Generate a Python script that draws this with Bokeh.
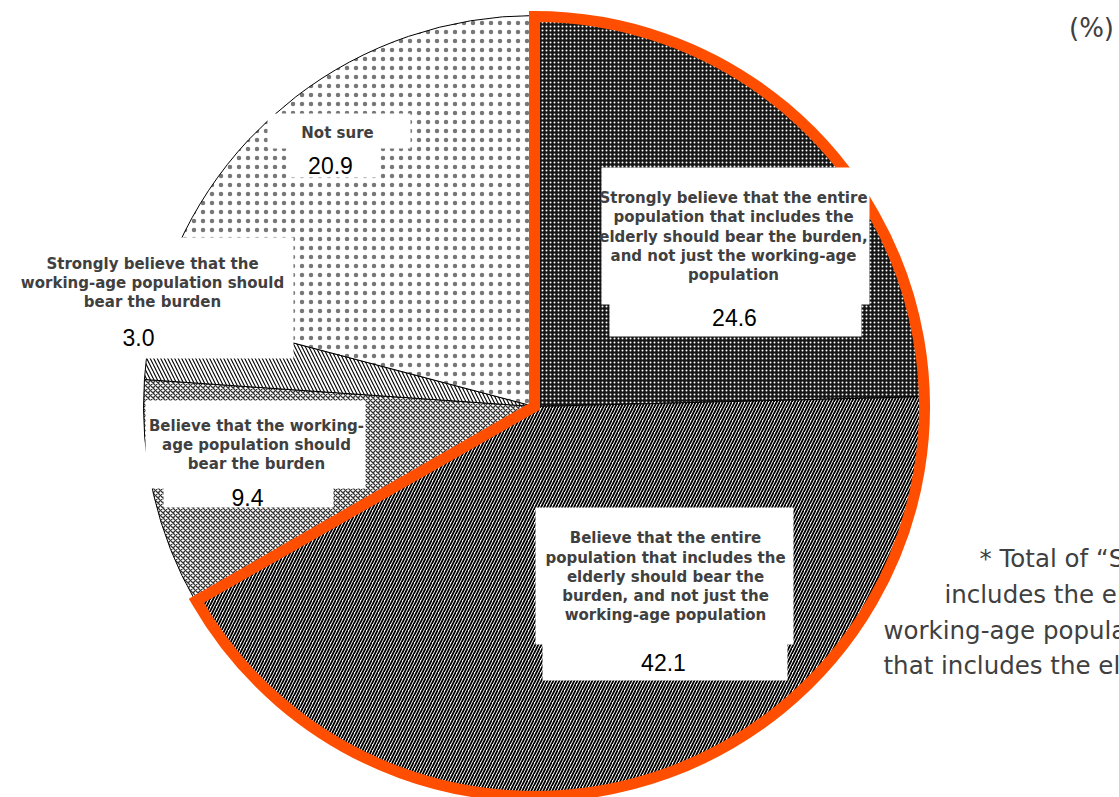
import math
from bokeh.plotting import figure
from bokeh.models import Range1d
from bokeh.embed import file_html
from bokeh.resources import INLINE
from bokeh.core.properties import value

# ---------------- data ----------------
categories = [
    "Strongly believe that the entire population that includes the elderly should bear the burden, and not just the working-age population",
    "Believe that the entire population that includes the elderly should bear the burden, and not just the working-age population",
    "Believe that the working-age population should bear the burden",
    "Strongly believe that the working-age population should bear the burden",
    "Not sure",
]
shares = [24.6, 42.1, 9.4, 3.0, 20.9]
value_labels = ["24.6", "42.1", "9.4", "3.0", "20.9"]
label_lines = [
    ["Strongly believe that the entire", "population that includes the",
     "elderly should bear the burden,", "and not just the working-age", "population"],
    ["Believe that the entire", "population that includes the",
     "elderly should bear the", "burden, and not just the", "working-age population"],
    ["Believe that the working-", "age population should", "bear the burden"],
    ["Strongly believe that the", "working-age population should", "bear the burden"],
    ["Not sure"],
]
highlighted = [0, 1]
unit_label = "(%)"
footnote_lines = [
    "* Total of \u201cStrongly believe\u201d and \u201cBelieve\u201d that the entire population that",
    "includes the elderly should bear the burden, and not just the",
    "working-age population (the entire population",
    "that includes the elderly)",
]

# ---------------- layout (screen pixels, y downward) ----------------
W, H = 1119, 797
CX, CY, R = 534, 406, 391
def Y(y):
    return H - y

styles = [
    dict(fill_color="#161616", hatch_pattern="dot", hatch_color="white", hatch_scale=4, hatch_weight=1.4),
    dict(fill_color="white", hatch_pattern="right_diagonal_line", hatch_color="black", hatch_scale=6, hatch_weight=1.8),
    dict(fill_color="white", hatch_pattern="diagonal_cross", hatch_color="#333333", hatch_scale=5, hatch_weight=1.3),
    dict(fill_color="white", hatch_pattern="left_diagonal_line", hatch_color="black", hatch_scale=7, hatch_weight=1.1),
    dict(fill_color="white", hatch_pattern="dot", hatch_color="#777777", hatch_scale=9, hatch_weight=0.3),
]
# label anchors: (center x, first line y, value x, value y)
anchors = [
    (733, 197.5, 734, 317),
    (665, 537.7, 663, 662),
    (256, 425, 247, 497),
    (152, 263, 138, 337),
    (337, 132, 330, 165),
]
LINE_STEP = 19.3
# white label backgrounds: (left, right, top, bottom)
boxes = [
    (601, 869, 167, 304), (609, 861, 303, 336),
    (535, 793, 507, 644), (542, 787, 643, 680),
    (145, 365, 400, 488), (163, 333, 487, 507),
    (15, 293, 237, 358),
    (267, 410, 113, 148), (290, 378, 147, 177),
]
foot_x = [979, 944, 883, 883]
foot_y = [558, 594, 630, 665]

p = figure(width=W, height=H, output_backend="svg", toolbar_location=None,
           x_range=Range1d(0, W), y_range=Range1d(0, H), min_border=0)
p.axis.visible = False
p.grid.visible = False
p.outline_line_color = None
p.background_fill_color = "white"
p.border_fill_color = "white"

total = sum(shares)
cum = 0.0
starts, ends = [], []
for s in shares:
    a0 = math.pi / 2 - 2 * math.pi * cum / total
    cum += s
    a1 = math.pi / 2 - 2 * math.pi * cum / total
    starts.append(a0)
    ends.append(a1)

for i in range(len(shares)):
    p.wedge(x=CX, y=Y(CY), radius=R, start_angle=starts[i], end_angle=ends[i],
            direction="clock", line_color="black", line_width=1, **styles[i])

# outline of the combined "entire population" share
hs = sum(shares[i] for i in highlighted)
p.wedge(x=CX, y=Y(CY), radius=R - 1, start_angle=starts[highlighted[0]],
        end_angle=starts[highlighted[0]] - 2 * math.pi * hs / total,
        direction="clock", fill_alpha=0, line_color="#FF4E00", line_width=11,
        line_join="miter")

# label backgrounds
p.quad(left=[b[0] for b in boxes], right=[b[1] for b in boxes],
       top=[Y(b[2]) for b in boxes], bottom=[Y(b[3]) for b in boxes],
       fill_color="white", line_color=None)

lx, ly, lt = [], [], []
for i, lines in enumerate(label_lines):
    ax, ay, _, _ = anchors[i]
    for k, t in enumerate(lines):
        lx.append(ax)
        ly.append(Y(ay + k * LINE_STEP))
        lt.append(t)
p.text(x=lx, y=ly, text=lt, text_font=value("DejaVu Sans"), text_font_style="bold",
       text_font_size="15px", text_color="#404040", text_align="center",
       text_baseline="middle")

p.text(x=[a[2] for a in anchors], y=[Y(a[3]) for a in anchors], text=value_labels,
       text_font=value("Liberation Sans"), text_font_size="23px", text_color="black",
       text_align="center", text_baseline="middle")

p.text(x=[1091], y=[Y(27)], text=[unit_label], text_font=value("DejaVu Sans"),
       text_font_size="26px", text_color="#404040", text_align="center",
       text_baseline="middle")

p.text(x=foot_x, y=[Y(v) for v in foot_y], text=footnote_lines,
       text_font=value("DejaVu Sans"), text_font_size="24.5px", text_color="#404040",
       text_align="left", text_baseline="middle")

open("out.html", "w").write(file_html(p, INLINE))
